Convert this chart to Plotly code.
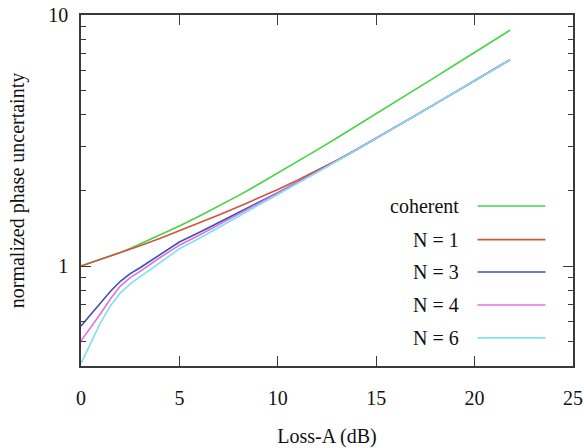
import plotly.graph_objects as go

loss_db = [0, 0.5, 1, 1.5, 2, 2.5, 3, 4, 5, 6, 7, 8, 9, 10, 11, 12, 13, 14, 15, 16, 17, 18, 19, 20, 21, 21.8]

coherent = [1.0, 1.03, 1.063, 1.097, 1.133, 1.175, 1.224, 1.323, 1.443, 1.579, 1.733, 1.908, 2.112, 2.345,
            2.609, 2.902, 3.236, 3.614, 4.033, 4.524, 5.055, 5.656, 6.339, 7.106, 7.965, 8.70]
n1 = [1.0, 1.031, 1.062, 1.095, 1.130, 1.167, 1.205, 1.288, 1.380, 1.483, 1.596, 1.722, 1.862, 2.018,
      2.198, 2.404, 2.642, 2.917, 3.228, 3.581, 3.981, 4.426, 4.920, 5.470, 6.081, 6.63]
n3 = [0.577, 0.64, 0.71, 0.794, 0.87, 0.933, 0.985, 1.11, 1.247, 1.361, 1.489, 1.629, 1.786, 1.959,
      2.158, 2.377, 2.624, 2.907, 3.225, 3.581, 3.981, 4.426, 4.920, 5.470, 6.081, 6.63]
n4 = [0.504, 0.570, 0.647, 0.741, 0.832, 0.90, 0.953, 1.079, 1.211, 1.327, 1.462, 1.607, 1.770, 1.945,
      2.148, 2.371, 2.624, 2.907, 3.225, 3.581, 3.981, 4.426, 4.920, 5.470, 6.081, 6.63]
n6 = [0.41, 0.497, 0.597, 0.695, 0.782, 0.849, 0.906, 1.035, 1.172, 1.288, 1.429, 1.578, 1.746, 1.928,
      2.133, 2.360, 2.612, 2.900, 3.225, 3.581, 3.981, 4.426, 4.920, 5.470, 6.081, 6.63]

series_names = ["coherent", "N = 1", "N = 3", "N = 4", "N = 6"]
series_values = [coherent, n1, n3, n4, n6]
colors = ["#44d444", "#d0553a", "#3f4fb8", "#e070e0", "#7fe0f0"]

x_ticks = [0, 5, 10, 15, 20, 25]

FONT = "'Liberation Serif', 'Times New Roman', Times, serif"
AXC = "#3a3a3a"

fig = go.Figure()
for name, vals, col in zip(series_names, series_values, colors):
    fig.add_trace(go.Scatter(x=loss_db, y=vals, mode="lines", name=name,
                             line=dict(color=col, width=1.6),
                             showlegend=False))

# gnuplot-style key: text right-aligned, line sample to the right
key_y = [0.456, 0.36, 0.268, 0.174, 0.08]  # paper fractions within plot area
for name, col, ky in zip(series_names, colors, key_y):
    fig.add_annotation(x=0.772, y=ky, xref="paper", yref="paper", text=name,
                       showarrow=False, xanchor="right", yanchor="middle",
                       font=dict(family=FONT, size=20, color="#111111"))
    fig.add_shape(type="line", xref="paper", yref="paper",
                  x0=0.806, x1=0.944, y0=ky, y1=ky, line=dict(color=col, width=1.6))

fig.update_layout(
    width=584, height=448,
    margin=dict(l=81, r=11, t=15, b=82),
    paper_bgcolor="white", plot_bgcolor="white",
    font=dict(family=FONT, size=20, color="#111111"),
)
fig.update_xaxes(
    range=[0, 25], tickvals=x_ticks, ticktext=[str(t) for t in x_ticks],
    ticks="inside", ticklen=10, tickwidth=1, tickcolor=AXC, ticklabelstandoff=13,
    showline=True, linecolor=AXC, linewidth=1.5, mirror="ticks",
    showgrid=False, zeroline=False, automargin=False,
    title=dict(text="Loss-A (dB)", font=dict(family=FONT, size=20), standoff=24),
    tickfont=dict(family=FONT, size=20),
)
fig.update_yaxes(
    type="log", range=[-0.398, 1.0], dtick=1,
    ticks="inside", ticklen=10, tickwidth=1, tickcolor=AXC, ticklabelstandoff=7,
    minor=dict(ticks="inside", ticklen=5, tickcolor=AXC, dtick="D1", showgrid=False),
    showline=True, linecolor=AXC, linewidth=1.5, mirror="ticks",
    showgrid=False, zeroline=False, automargin=False,
    title=dict(text="normalized phase uncertainty", font=dict(family=FONT, size=20), standoff=18),
    tickfont=dict(family=FONT, size=20),
)

fig.write_html("out.html")
